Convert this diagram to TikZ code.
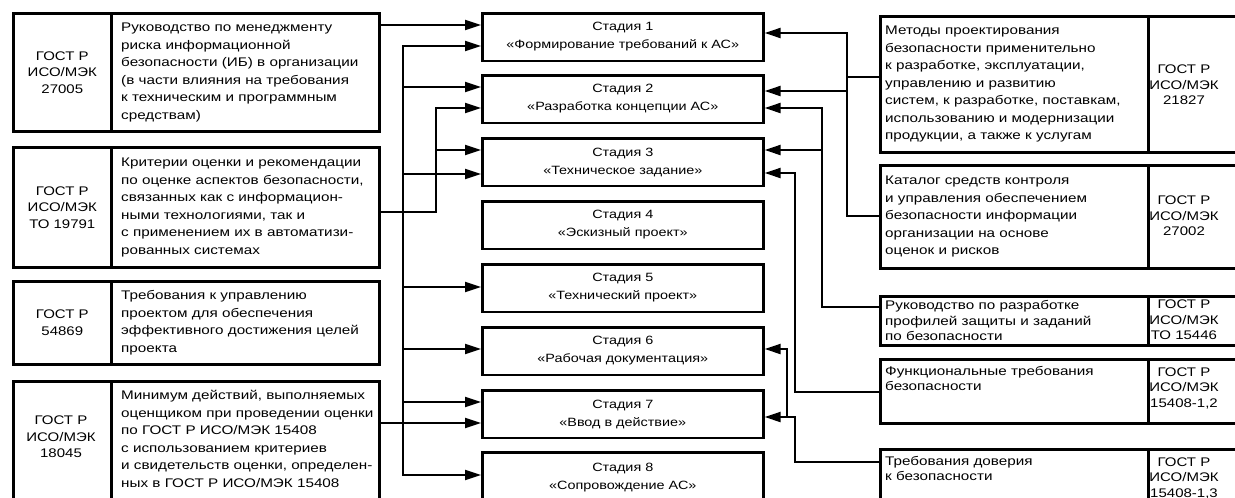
\documentclass[tikz,border=0pt]{standalone}
\usepackage{fontspec}
\setmainfont{Liberation Sans}[FakeStretch=1.2]
\newfontfamily\descfam{Liberation Sans}[FakeStretch=1.22]
\usetikzlibrary{arrows.meta}
\newcommand\desctext{\descfam\fontsize{12.5pt}{17.5pt}\selectfont}
\newcommand\shortdesc{\descfam\fontsize{12.5pt}{15.5pt}\selectfont}
\newcommand\codetext{\fontsize{12.5pt}{16.5pt}\selectfont}
\newcommand\rcodetext{\fontsize{12.5pt}{15.5pt}\selectfont}
\newcommand\stagetext{\fontsize{12pt}{18pt}\selectfont}

\begin{document}
\begin{tikzpicture}[x=1pt,y=-1pt,
  cell/.style={draw, line width=2.6pt, anchor=north west, inner sep=0pt},
  desc/.style={anchor=west, align=left, inner sep=0pt, font=\desctext},
  desctop/.style={anchor=north west, align=left, inner sep=0pt, font=\desctext},
  code/.style={align=center, inner sep=0pt, font=\codetext},
  rcode/.style={align=center, inner sep=0pt, font=\rcodetext},
  stagebox/.style={cell, minimum width=281pt, minimum height=47.5pt,
                   align=center, font=\stagetext},
  link/.style={line width=2pt, line join=miter},
  arr/.style={link, -{Triangle[length=16pt,width=10pt]}}]
\useasboundingbox (0,0) rectangle (1235,498);
\clip (0,0) rectangle (1235,498);
\fill[white] (0,0) rectangle (1235,498);

% ---- standards on the left ----
\node[cell, minimum width=98pt, minimum height=118pt] (L1c) at (12,12) {};
\node[cell, minimum width=268pt, minimum height=118pt] (L1d) at (110,12) {};
\node[code] at (L1c.center) {ГОСТ Р\\ИСО/МЭК\\27005};
\node[desc] at ([xshift=11pt]L1d.west) {Руководство по менеджменту\\риска информационной\\безопасности (ИБ) в организации\\(в части влияния на требования\\к техническим и программным\\средствам)};

\node[cell, minimum width=98pt, minimum height=120pt] (L2c) at (12,146) {};
\node[cell, minimum width=268pt, minimum height=120pt] (L2d) at (110,146) {};
\node[code] at (L2c.center) {ГОСТ Р\\ИСО/МЭК\\ТО 19791};
\node[desc] at ([xshift=11pt]L2d.west) {Критерии оценки и рекомендации\\по оценке аспектов безопасности,\\связанных как с информацион-\\ными технологиями, так и\\с применением их в автоматизи-\\рованных системах};

\node[cell, minimum width=98pt, minimum height=83pt] (L3c) at (12,280) {};
\node[cell, minimum width=268pt, minimum height=83pt] (L3d) at (110,280) {};
\node[code] at (L3c.center) {ГОСТ Р\\54869};
\node[desc] at ([xshift=11pt]L3d.west) {Требования к управлению\\проектом для обеспечения\\эффективного достижения целей\\проекта};

\node[cell, minimum width=98pt, minimum height=125pt] (L4c) at (12,380) {};
\node[cell, minimum width=268pt, minimum height=125pt] (L4d) at (110,380) {};
\node[code] at (61,437) {ГОСТ Р\\ИСО/МЭК\\18045};
\node[desc] at (121,439) {Минимум действий, выполняемых\\оценщиком при проведении оценки\\по ГОСТ Р ИСО/МЭК 15408\\с использованием критериев\\и свидетельств оценки, определен-\\ных в ГОСТ Р ИСО/МЭК 15408};

% ---- stages ----
\node[stagebox] (S1) at (481,12)  {Стадия 1\\«Формирование требований к АС»};
\node[stagebox] (S2) at (481,74)  {Стадия 2\\«Разработка концепции АС»};
\node[stagebox] (S3) at (481,137) {Стадия 3\\«Техническое задание»};
\node[stagebox] (S4) at (481,200) {Стадия 4\\«Эскизный проект»};
\node[stagebox] (S5) at (481,263) {Стадия 5\\«Технический проект»};
\node[stagebox] (S6) at (481,326) {Стадия 6\\«Рабочая документация»};
\node[stagebox] (S7) at (481,389) {Стадия 7\\«Ввод в действие»};
\node[stagebox, minimum height=55pt, text depth=7.5pt] (S8) at (481,451) {Стадия 8\\«Сопровождение АС»};

% ---- standards on the right ----
\node[cell, minimum width=268pt, minimum height=136pt] (R1d) at (879,15) {};
\node[cell, minimum width=100pt, minimum height=136pt] (R1c) at (1147,15) {};
\node[desc] at ([xshift=6pt]R1d.west) {Методы проектирования\\безопасности применительно\\к разработке, эксплуатации,\\управлению и развитию\\систем, к разработке, поставкам,\\использованию и модернизации\\продукции, а также к услугам};
\node[rcode] at (1184,85) {ГОСТ Р\\ИСО/МЭК\\21827};

\node[cell, minimum width=268pt, minimum height=103pt] (R2d) at (879,164) {};
\node[cell, minimum width=100pt, minimum height=103pt] (R2c) at (1147,164) {};
\node[desc] at ([xshift=6pt]R2d.west) {Каталог средств контроля\\и управления обеспечением\\безопасности информации\\организации на основе\\оценок и рисков};
\node[rcode] at (1184,216) {ГОСТ Р\\ИСО/МЭК\\27002};

\node[cell, minimum width=268pt, minimum height=49pt] (R3d) at (879,295) {};
\node[cell, minimum width=100pt, minimum height=49pt] (R3c) at (1147,295) {};
\node[desc, font=\shortdesc] at ([xshift=6pt]R3d.west) {Руководство по разработке\\профилей защиты и заданий\\по безопасности};
\node[rcode] at (1184,320) {ГОСТ Р\\ИСО/МЭК\\ТО 15446};

\node[cell, minimum width=268pt, minimum height=64pt] (R4d) at (879,358) {};
\node[cell, minimum width=100pt, minimum height=64pt] (R4c) at (1147,358) {};
\node[desctop, font=\shortdesc] at (885,366) {Функциональные требования\\безопасности};
\node[rcode] at (1184,388) {ГОСТ Р\\ИСО/МЭК\\15408-1,2};

\node[cell, minimum width=268pt, minimum height=62pt] (R5d) at (879,448) {};
\node[cell, minimum width=100pt, minimum height=62pt] (R5c) at (1147,448) {};
\node[desctop, font=\shortdesc] at (885,456) {Требования доверия\\к безопасности};
\node[rcode] at (1184,478) {ГОСТ Р\\ИСО/МЭК\\15408-1,3};

% ---- connectors, left side ----
\draw[arr] (L1d.east |- 0,25) -- (S1.west |- 0,25);
\draw[arr] (L2d.east |- 0,212) -| (436,108) -- (S2.west |- 0,108);
\draw[arr] (436,150) -- (S3.west |- 0,150);
\draw[arr] (403,260) |- (S1.west |- 0,46);
\draw[arr] (403,260) |- (S8.west |- 0,475);
\draw[arr] (403,87)  -- (S2.west |- 0,87);
\draw[arr] (403,174) -- (S3.west |- 0,174);
\draw[arr] (403,287) -- (S5.west |- 0,287);
\draw[arr] (403,349) -- (S6.west |- 0,349);
\draw[arr] (403,402) -- (S7.west |- 0,402);
\draw[arr] (L4d.east |- 0,423) -- (S7.west |- 0,423);

% ---- connectors, right side ----
\draw[arr] (R2d.west |- 0,216) -| (847,33) -- (S1.east |- 0,33);
\draw[link] (R1d.west |- 0,77) -- (847,77);
\draw[arr] (847,91) -- (S2.east |- 0,91);
\draw[arr] (R3d.west |- 0,307) -| (822,108) -- (S2.east |- 0,108);
\draw[arr] (822,150) -- (S3.east |- 0,150);
\draw[arr] (R4d.west |- 0,392) -| (795,173) -- (S3.east |- 0,173);
\draw[arr] (R5d.west |- 0,462) -| (795,417) -- (S7.east |- 0,417);
\draw[arr] (787,417) |- (S6.east |- 0,349);
\end{tikzpicture}
\end{document}
